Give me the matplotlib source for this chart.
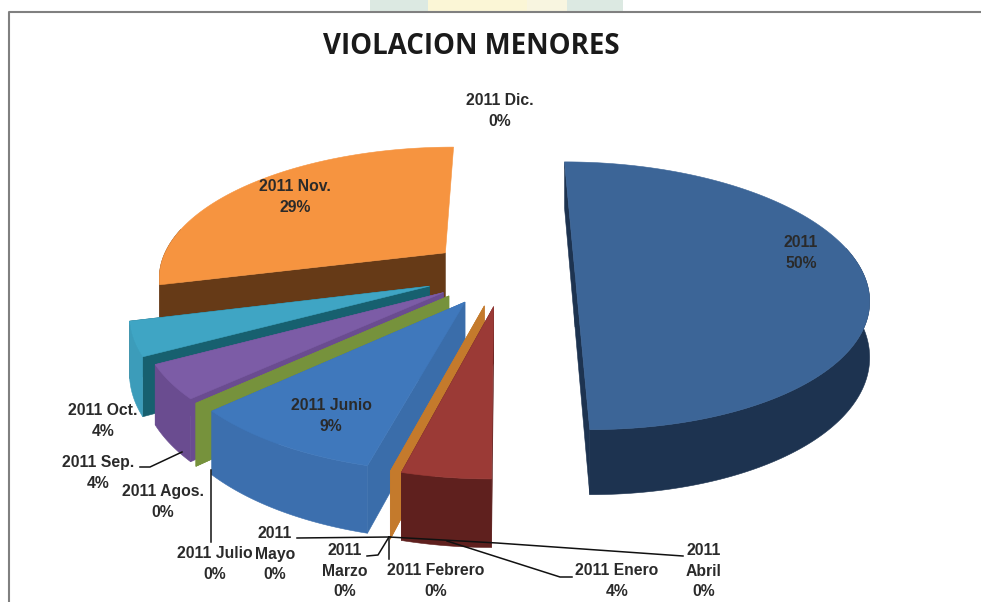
import numpy as np
import matplotlib
matplotlib.use("Agg")
import matplotlib.pyplot as plt
from matplotlib.patches import Polygon, Rectangle

# DATA
months = ["2011", "2011 Enero", "2011 Febrero", "2011 Marzo", "2011 Abril", "2011 Mayo", "2011 Junio",
          "2011 Julio", "2011 Agos.", "2011 Sep.", "2011 Oct.", "2011 Nov.", "2011 Dic."]
values = [50, 4, 0, 0, 0, 0, 9, 0, 0, 4, 4, 29, 0]

# top, rim wall, radial wall; None = zero slice which does not show
top_cols = ["#3C6597", "#9B3A36", "#C47A2C", None, None, None, "#3F78BC",
            "#76923C", None, "#7C5CA6", "#3FA5C4", "#F69440", None]
rim_cols = ["#1D3350", "#5F201E", "#C47A2C", None, None, None, "#3C6FAE",
            "#76923C", None, "#6A4C90", "#3C9CBA", "#663A17", None]
side_cols = ["#1D3350", "#5F201E", "#C47A2C", None, None, None, "#3A6DAA",
             "#76923C", None, "#6A4C90", "#17606F", "#663A17", None]

explode = [0.25, 0.25, 0.25, 0.25, 0.25, 0.25, 0.25, 0.25, 0.25, 0.25, 0.27, 0.26, 0.2]

# fake 3D camera, in pixels
x0, cy = 503, 273
rx, ry = 288, 130
persp = 0.17
depth = 54
start = 0.0


def project(X, Y, drop=0.0):
    w = 1 + persp * Y
    return np.column_stack([x0 + rx * X / w, cy - ry * Y / w + drop / w])


def add_poly(ax, pts, col, z):
    ax.add_patch(Polygon(pts, closed=True, facecolor=col, edgecolor=col, linewidth=0.4, zorder=z))


def draw_slice(ax, a0, a1, e, top, rim, side, z):
    mid = np.radians((a0 + a1) / 2)
    ax_, ay_ = e * np.sin(mid), e * np.cos(mid)
    th = np.radians(np.linspace(a0, a1, max(2, int(a1 - a0) * 2)))
    X = np.concatenate([[ax_], ax_ + np.sin(th)])
    Y = np.concatenate([[ay_], ay_ + np.cos(th)])
    up = project(X, Y)
    down = project(X, Y, depth)
    # radial walls first, then the outer rim, then the top face
    add_poly(ax, np.vstack([up[[0, 1]], down[[1, 0]]]), side, z)
    # the back wall of a slice on the upper left does not show
    if not (np.sin(mid) < 0 and np.cos(mid) > 0):
        add_poly(ax, np.vstack([up[[0, -1]], down[[-1, 0]]]), side, z)
    if a1 > a0:
        # only the part of the rim that faces the viewer
        front = np.cos(th) < 0.2
        if front.sum() > 1:
            add_poly(ax, np.vstack([up[1:][front], down[1:][front][::-1]]), rim, z + 0.1)
        add_poly(ax, up, top, z + 0.2)


fig = plt.figure(figsize=(9.81, 6.02), dpi=100)
ax = fig.add_axes([0, 0, 1, 1])
ax.set_xlim(0, 981)
ax.set_ylim(602, 0)
ax.axis("off")

# bits of the page behind the chart
ax.add_patch(Rectangle((370, 0), 58, 11, color="#DCE9E2", lw=0))
ax.add_patch(Rectangle((428, 0), 99, 11, color="#FBF6D6", lw=0))
ax.add_patch(Rectangle((527, 0), 40, 11, color="#F8F5E0", lw=0))
ax.add_patch(Rectangle((567, 0), 56, 11, color="#DCE9E2", lw=0))
ax.plot([9, 9, 981], [602, 12, 12], color="#808080", lw=1.5, solid_capstyle="butt")

# slices, back to front
edges = start + np.concatenate([[0], np.cumsum(values)]) * 3.6
mids = (edges[:-1] + edges[1:]) / 2
order = np.argsort(-np.cos(np.radians(mids)))
for n, i in enumerate(order):
    if top_cols[i] is None:
        continue
    draw_slice(ax, edges[i], edges[i + 1], explode[i], top_cols[i], rim_cols[i], side_cols[i], 2 + n)

ax.text(471, 47, "VIOLACION MENORES", fontfamily="Open Sans", fontweight="bold", fontsize=19.9,
        color="#1a1a1a", ha="center", va="center", zorder=40)

# label text and where it goes
label_text = ["2011\n50%", "2011 Enero\n4%", "2011 Febrero\n0%", "2011\nMarzo\n0%", "2011\nAbril\n0%",
              "2011\nMayo\n0%", "2011 Junio\n9%", "2011 Julio\n0%", "2011 Agos.\n0%", "2011 Sep.\n4%",
              "2011 Oct.\n4%", "2011 Nov.\n29%", "2011 Dic.\n0%"]
label_xy = [(801, 253), (617, 581), (436, 581), (345, 571), (704, 571), (275, 554), (331, 416),
            (215, 564), (163, 502), (98, 473), (103, 421), (295, 197), (500, 111)]
for txt, (lx, ly) in zip(label_text, label_xy):
    ax.text(lx, ly, txt, fontfamily="Liberation Sans", fontweight="bold", fontsize=11.3, color="#2a2a2a",
            ha="center", va="center", linespacing=1.47, zorder=40)

# leader lines
leaders = [
    ([140, 150, 182], [467, 467, 452]),
    ([211, 211], [470, 542]),
    ([297, 390], [538, 537]),
    ([367, 378, 389], [556, 555, 537]),
    ([389, 389], [537, 559]),
    ([447, 560, 572], [541, 577, 577]),
    ([389, 497, 683], [537, 543, 556]),
]
for lx, ly in leaders:
    ax.plot(lx, ly, color="#111111", lw=1.1, zorder=35)

fig.savefig("out.png", dpi=100)
